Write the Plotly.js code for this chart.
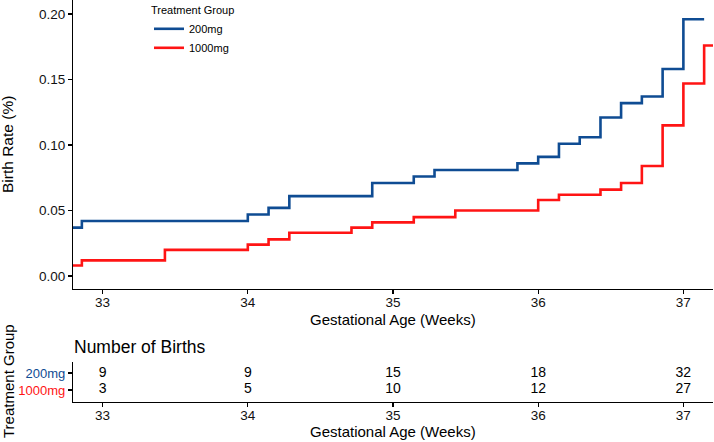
<!DOCTYPE html>
<html>
<head>
<meta charset="utf-8">
<script src="https://cdn.plot.ly/plotly-3.0.1.min.js"></script>
<style>
  html, body { margin: 0; padding: 0; background: #fff; }
  #chart { width: 714px; height: 442px; }
</style>
</head>
<body>
<div id="chart"></div>
<script>
// ---- data ----
const groups = ["200mg", "1000mg"];
const groupColors = ["#0F4C93", "#FF1414"];

const weeks200 = [32.714, 32.857, 34.0, 34.143, 34.286, 34.857, 35.143, 35.286, 35.857, 36.0, 36.143, 36.286, 36.429, 36.571, 36.714, 36.857, 37.0, 37.143];
const rate200  = [0.037, 0.042, 0.047, 0.052, 0.061, 0.071, 0.076, 0.081, 0.086, 0.091, 0.101, 0.106, 0.121, 0.132, 0.137, 0.158, 0.196, 0.196];

const weeks1000 = [32.714, 32.857, 33.429, 34.0, 34.143, 34.286, 34.714, 34.857, 35.143, 35.429, 36.0, 36.143, 36.429, 36.571, 36.714, 36.857, 37.0, 37.143, 37.286];
const rate1000  = [0.008, 0.012, 0.020, 0.024, 0.028, 0.033, 0.037, 0.041, 0.045, 0.050, 0.058, 0.062, 0.066, 0.071, 0.084, 0.115, 0.147, 0.176, 0.176];

const tableWeeks = [33, 34, 35, 36, 37];
const births200  = [9, 9, 15, 18, 32];
const births1000 = [3, 5, 10, 12, 27];

const yTicks = [0, 0.05, 0.10, 0.15, 0.20];
const xTicks = [33, 34, 35, 36, 37];

// ---- traces ----
const FONT = "Liberation Sans, Arial, sans-serif";
const traces = [
  {
    x: weeks200, y: rate200, name: groups[0], type: "scatter", mode: "lines",
    line: { color: groupColors[0], width: 2.6, shape: "hv" },
    xaxis: "x", yaxis: "y", hoverinfo: "skip"
  },
  {
    x: weeks1000, y: rate1000, name: groups[1], type: "scatter", mode: "lines",
    line: { color: groupColors[1], width: 2.6, shape: "hv" },
    xaxis: "x", yaxis: "y", hoverinfo: "skip"
  },
  {
    x: tableWeeks, y: tableWeeks.map(() => 1), text: births200.map(String),
    type: "scatter", mode: "text", textposition: "middle center",
    textfont: { size: 14, color: "#000", family: FONT },
    xaxis: "x2", yaxis: "y2", showlegend: false, hoverinfo: "skip", cliponaxis: false
  },
  {
    x: tableWeeks, y: tableWeeks.map(() => 0), text: births1000.map(String),
    type: "scatter", mode: "text", textposition: "middle center",
    textfont: { size: 14, color: "#000", family: FONT },
    xaxis: "x2", yaxis: "y2", showlegend: false, hoverinfo: "skip", cliponaxis: false
  }
];

const W = 714, H = 442;
const xDom = [73 / W, 713 / W];

const axisCommon = {
  showgrid: false, zeroline: false, showline: true, linecolor: "#000", linewidth: 1.1,
  ticks: "outside", ticklen: 4, tickwidth: 1.1, tickcolor: "#000",
  tickfont: { size: 13.5, color: "#111", family: FONT }
};

const titleFont = { size: 15, family: FONT, color: "#000" };

const layout = {
  width: W, height: H,
  margin: { l: 0, r: 0, t: 0, b: 0, pad: 0 },
  paper_bgcolor: "#fff", plot_bgcolor: "#fff",
  font: { family: FONT, color: "#000" },
  hovermode: false,
  showlegend: true,
  legend: {
    x: 149 / W, y: 1, xanchor: "left", yanchor: "top",
    bgcolor: "rgba(0,0,0,0)", borderwidth: 0,
    font: { size: 11, family: FONT, color: "#000" },
    title: { text: "Treatment Group", side: "top", font: { size: 11, family: FONT, color: "#000" } },
    tracegroupgap: 0
  },
  xaxis: Object.assign({}, axisCommon, {
    domain: xDom, anchor: "y", range: [32.796, 37.204],
    tickvals: xTicks, ticktext: xTicks.map(String), ticklabelstandoff: -3,
    title: { text: "" }
  }),
  yaxis: Object.assign({}, axisCommon, {
    domain: [(H - 288.5) / H, 1], anchor: "x", range: [-0.0095, 0.2107],
    tickvals: yTicks, ticktext: yTicks.map(v => v.toFixed(2)),
    title: { text: "" }
  }),
  xaxis2: Object.assign({}, axisCommon, {
    domain: xDom, anchor: "y2", range: [32.796, 37.204],
    tickvals: xTicks, ticktext: xTicks.map(String), ticklabelstandoff: -3,
    title: { text: "" }
  }),
  yaxis2: Object.assign({}, axisCommon, {
    domain: [(H - 401.5) / H, (H - 361.7) / H], anchor: "x2", range: [-0.676, 1.665],
    tickvals: [1, 0],
    ticktext: groups.map((g, i) => '<span style="color:' + groupColors[i] + '">' + g + '</span>'),
    tickfont: { size: 13, family: FONT },
    title: { text: "" }
  }),
  annotations: [
    {
      text: "Birth Rate (%)", xref: "paper", yref: "paper",
      x: 8 / W, y: (H - 145) / H, xanchor: "center", yanchor: "middle",
      textangle: -90, showarrow: false, font: { size: 15.5, family: FONT, color: "#000" }
    },
    {
      text: "Gestational Age (Weeks)", xref: "paper", yref: "paper",
      x: 393 / W, y: (H - 319) / H, xanchor: "center", yanchor: "middle",
      showarrow: false, font: titleFont
    },
    {
      text: "Treatment Group", xref: "paper", yref: "paper",
      x: 8 / W, y: (H - 381) / H, xanchor: "center", yanchor: "middle",
      textangle: -90, showarrow: false, font: { size: 15, family: FONT, color: "#000" }
    },
    {
      text: "Number of Births", xref: "paper", yref: "paper",
      x: 72 / W, y: (H - 347) / H, xanchor: "left", yanchor: "middle",
      showarrow: false, font: { size: 17.5, family: FONT, color: "#000" }
    },
    {
      text: "Gestational Age (Weeks)", xref: "paper", yref: "paper",
      x: 393 / W, y: (H - 431) / H, xanchor: "center", yanchor: "middle",
      showarrow: false, font: titleFont
    }
  ]
};

Plotly.newPlot("chart", traces, layout, { staticPlot: true, displayModeBar: false });
</script>
</body>
</html>
